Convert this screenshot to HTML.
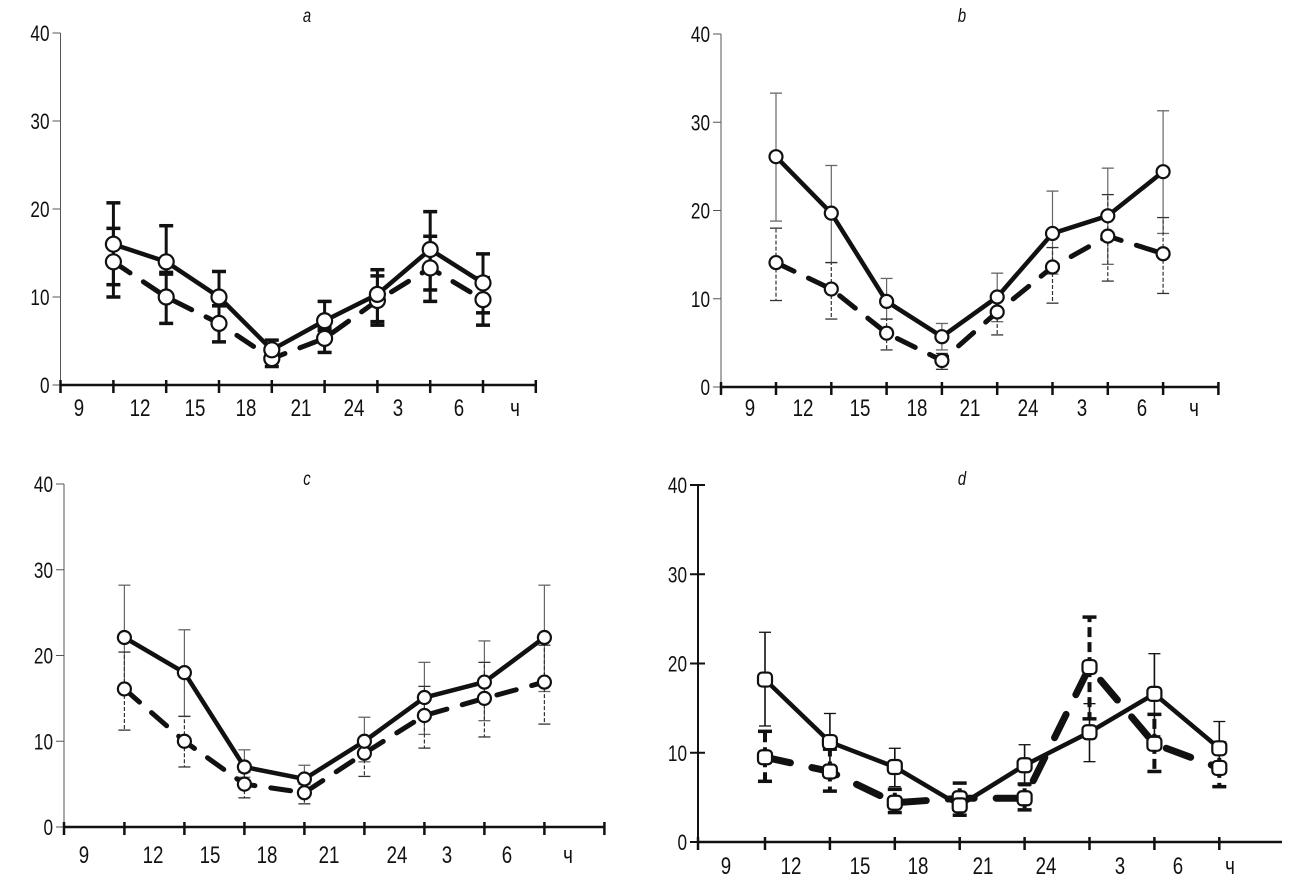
<!DOCTYPE html>
<html><head><meta charset="utf-8"><style>
html,body{margin:0;padding:0;background:#fff;}
svg{display:block;}
text{font-family:"Liberation Sans Narrow","Liberation Sans",sans-serif;fill:#111;}
</style></head><body>
<svg id="chart" width="1306" height="887" viewBox="0 0 1306 887" xmlns="http://www.w3.org/2000/svg"></svg>
<script>
// ---- data ----
const xLabels = ["9","12","15","18","21","24","3","6","ч"];
const yTicks = [0,10,20,30,40];
const panelNames = ["a","b","c","d"];
// panel a
const aSolid    = [16,14,10,4,7.3,10.3,15.4,11.6];
const aSolidHi  = [20.7,18.1,12.9,5.1,9.5,13.1,19.7,14.9];
const aSolidLo  = [11.4,12.8,9,3.2,6.2,7.2,10.8,8.2];
const aDash     = [14,10,7,3,5.3,9.6,13.3,9.7];
const aDashHi   = [17.8,12.6,9,4.5,6.5,12.4,16.9,12.2];
const aDashLo   = [10,7,4.9,2.1,3.7,6.8,9.5,6.8];
// panel b
const bSolid    = [26.1,19.7,9.7,5.7,10.2,17.4,19.4,24.4];
const bSolidHi  = [33.3,25.1,12.3,7.2,12.9,22.2,24.8,31.3];
const bSolidLo  = [18.8,14.1,7.7,4.2,7.4,12.8,13.9,17.4];
const bDash     = [14.1,11.1,6.1,3,8.5,13.6,17.1,15.1];
const bDashHi   = [18,14.1,7.7,3.8,9.8,15.8,21.8,19.2];
const bDashLo   = [9.8,7.7,4.2,2,5.9,9.5,12,10.6];
// panel c
const cSolid    = [22.1,18,7,5.6,10,15.1,16.9,22.1];
const cSolidHi  = [28.2,23,9,7.2,12.8,19.2,21.7,28.2];
const cSolidLo  = [16.3,12.9,5.8,4.2,7.6,10.8,12.4,15.8];
const cDash     = [16.1,10,5,4,8.6,13,15,16.9];
const cDashHi   = [20.4,12.9,6.4,5,10.1,16.4,19.2,21.2];
const cDashLo   = [11.3,7,3.4,2.7,5.9,9.2,10.5,12];
// panel d
const dSolid    = [18.2,11.2,8.4,4.1,8.6,12.3,16.6,10.5];
const dSolidHi  = [23.5,14.4,10.5,5.2,10.9,15.5,21.1,13.5];
const dSolidLo  = [13,8,6.2,3,6.3,9,11.9,7.6];
const dDash     = [9.5,7.9,4.4,4.9,4.9,19.6,11,8.3];
const dDashHi   = [12.4,10.4,5.9,6.6,6.5,25.2,14.3,11.1];
const dDashLo   = [6.8,5.7,3.3,3,3.6,13.8,7.9,6.2];

// ---- layout (pixels, not data) ----
const layouts = [
 {ax:60.5, x0:113.4, step:52.8, xEnd:537, y0:385, y40:33, ly:416, lx:[79,140,195,246,301,354,398,459,515], tx:307, ty:22, style:"a"},
 {ax:721, x0:776, step:55.3, xEnd:1219, y0:387, y40:34, ly:416, lx:[750,803,860,917,970,1028,1082,1142,1194], tx:962, ty:22, style:"b"},
 {ax:64, x0:124.4, step:60, xEnd:605, y0:827, y40:484, ly:863, lx:[84,153,210,267,329,397,447,507,568], tx:307, ty:485, style:"c"},
 {ax:698, x0:765, step:64.9, xEnd:1282, y0:842, y40:485, ly:874, lx:[726,791,860,918,983,1046,1120,1178,1230], tx:962, ty:485, style:"d"}
];
const seriesSets = [
 [aSolid,aSolidHi,aSolidLo,aDash,aDashHi,aDashLo],
 [bSolid,bSolidHi,bSolidLo,bDash,bDashHi,bDashLo],
 [cSolid,cSolidHi,cSolidLo,cDash,cDashHi,cDashLo],
 [dSolid,dSolidHi,dSolidLo,dDash,dDashHi,dDashLo]
];
const NS="http://www.w3.org/2000/svg";
const svg=document.getElementById('chart');
function mk(tag,attrs,parent){const e=document.createElementNS(NS,tag);for(const k in attrs)e.setAttribute(k,attrs[k]);parent.appendChild(e);return e;}
function label(parent,x,y,size,anchor,str,italic){
  const t=mk('text',{x:0,y:0,'font-size':size,'text-anchor':anchor,transform:'translate('+x+','+y+') scale(0.78,1)'},parent);
  if(italic)t.setAttribute('font-style','italic');
  t.textContent=str;
  return t;
}

layouts.forEach((L,pi)=>{
  const g=mk('g',{},svg);
  
  
  const X=i=>L.x0+i*L.step;
  const Y=v=>L.y0-(v/40)*(L.y0-L.y40);
  const d=L.style==="d";
  const t=label(g,L.tx,L.ty,19,'middle',panelNames[pi],true);
  
  
  const ya=mk('line',{x1:L.ax,y1:L.y0,x2:L.ax,y2:L.y40,stroke:d?'#111':'#555','stroke-width':d?2:1},g);
  
  
  yTicks.forEach(v=>{
    mk('line',{x1:L.ax-8,y1:Y(v),x2:L.ax+(d?7:0),y2:Y(v),stroke:d?'#111':'#555','stroke-width':d?2:1},g);
    const tl=label(g,L.ax-11,Y(v)+8,22,'end',String(v));
    
    
  });
  const xa=mk('line',{x1:L.ax,y1:L.y0,x2:L.xEnd,y2:L.y0,stroke:'#111','stroke-width':2.5},g);
  
  
  mk('line',{x1:L.ax,y1:L.y0-5,x2:L.ax,y2:L.y0+8,stroke:'#111','stroke-width':2.5},g);
  const nT=d?8:9;
  for(let i=0;i<nT;i++){
    mk('line',{x1:X(i),y1:L.y0-5,x2:X(i),y2:L.y0+8,stroke:'#111','stroke-width':2.5},g);
  }
  xLabels.forEach((s,i)=>{
    const tl=label(g,L.lx[i],L.ly,24,'middle',s);
    
    
  });
  const [sv,sh,sl,dv,dh,dl]=seriesSets[pi];
  const thick=L.style==="a";
  const errStyle=(dash)=>{
    if(thick) return {stroke:'#111','stroke-width':3};
    if(d) return dash?{stroke:'#111','stroke-width':4,'stroke-dasharray':'10 5'}:{stroke:'#111','stroke-width':1.6};
    return dash?{stroke:'#333','stroke-width':1.2,'stroke-dasharray':'4 2'}:{stroke:'#666','stroke-width':1.2};
  };
  function bars(vals,hi,lo,dash,name){
    vals.forEach((v,i)=>{
      const st=errStyle(dash);
      const capW=thick||(d&&dash)?7:6;
      [hi[i],lo[i]].forEach(e=>{
        const ln=mk('line',Object.assign({x1:X(i),y1:Y(v),x2:X(i),y2:Y(e)},st),g);
        
        
        mk('line',{x1:X(i)-capW,y1:Y(e),x2:X(i)+capW,y2:Y(e),stroke:st.stroke,'stroke-width':(thick||(d&&dash))?3.5:1.3},g);
      });
    });
  }
  bars(sv,sh,sl,false,'error-bar-solid');
  bars(dv,dh,dl,true,'error-bar-dashed');
  const pts=a=>a.map((v,i)=>X(i)+','+Y(v)).join(' ');
  const dl2=mk('polyline',{points:pts(dv),fill:'none',stroke:'#111','stroke-width':d?7:5,'stroke-dasharray':d?'26 22':'20 16','stroke-linecap':'round'},g);
  
  
  const sl2=mk('polyline',{points:pts(sv),fill:'none',stroke:'#111','stroke-width':4.5,'stroke-linejoin':'round'},g);
  
  
  function markers(vals,name){
    vals.forEach((v,i)=>{
      let m;
      if(d) m=mk('rect',{x:X(i)-7,y:Y(v)-7,width:14,height:14,rx:4,fill:'#fff',stroke:'#111','stroke-width':2.2},g);
      else m=mk('circle',{cx:X(i),cy:Y(v),r:thick?7.5:6.5,fill:'#fff',stroke:'#111','stroke-width':2.2},g);
      
      
    });
  }
  markers(dv,'dashed-series-marker');
  markers(sv,'solid-series-marker');
});
</script>
</body></html>
